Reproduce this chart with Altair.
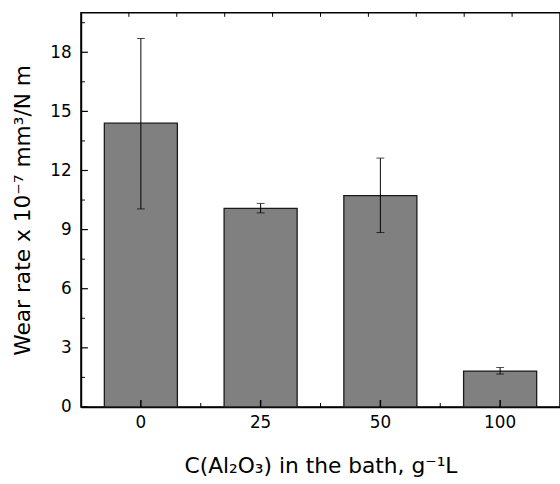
import altair as alt
import pandas as pd

categories = ["0", "25", "50", "100"]
values = [14.4, 10.08, 10.73, 1.82]
err_low = [10.05, 9.85, 8.85, 1.67]
err_high = [18.7, 10.33, 12.63, 2.0]

y_major = [0, 3, 6, 9, 12, 15, 18]
y_minor = [1.5, 4.5, 7.5, 10.5, 13.5, 16.5, 19.5]
x_minor_start = ["25", "50", "100"]
top_ticks = [1, 2, 3, 4, 5, 6, 7, 8, 9]

FONT = "DejaVu Sans"

df = pd.DataFrame({"cat": categories, "val": values, "lo": err_low, "hi": err_high})
df_ymaj = pd.DataFrame({"v": y_major})
df_ymin = pd.DataFrame({"v": y_minor})
df_xmaj = pd.DataFrame({"cat": categories})
df_xmin = pd.DataFrame({"cat": x_minor_start})
df_top = pd.DataFrame({"t": top_ticks})

xscale = alt.Scale(domain=categories, paddingInner=0, paddingOuter=0)
yscale = alt.Scale(domain=[0, 20], nice=False)

x_enc = alt.X(
    "cat:N", sort=categories, scale=xscale,
    axis=alt.Axis(
        title="C(Al₂O₃) in the bath, g⁻¹L", labelAngle=0, ticks=False,
        labelFontSize=17, labelPadding=8, titleFontSize=22, titlePadding=25,
        titleFontWeight="normal", domainColor="black", domainWidth=1.5,
        labelColor="black", titleColor="black", labelFont=FONT, titleFont=FONT,
    ),
)
y_enc = alt.Y(
    "val:Q", scale=yscale,
    axis=alt.Axis(
        title="Wear rate x 10⁻⁷ mm³/N m", values=y_major, ticks=False, grid=False,
        labelFontSize=17, labelPadding=10, titleFontSize=22, titlePadding=15,
        titleFontWeight="normal", domainColor="black", domainWidth=1.5,
        labelColor="black", titleColor="black", labelFont=FONT, titleFont=FONT,
    ),
)

bars = alt.Chart(df).mark_bar(
    color="#808080", stroke="#1a1a1a", strokeWidth=1.3,
    width=alt.RelativeBandSize(0.61),
).encode(x=x_enc, y=y_enc)

err = alt.Chart(df).mark_rule(color="black", strokeWidth=1).encode(
    x=alt.X("cat:N", sort=categories), y=alt.Y("lo:Q"), y2="hi:Q"
)
cap_lo = alt.Chart(df).mark_tick(color="black", thickness=1, size=8).encode(
    x=alt.X("cat:N", sort=categories), y=alt.Y("lo:Q")
)
cap_hi = alt.Chart(df).mark_tick(color="black", thickness=1, size=8).encode(
    x=alt.X("cat:N", sort=categories), y=alt.Y("hi:Q")
)

ymaj = alt.Chart(df_ymaj).mark_rule(color="black", strokeWidth=1.2).encode(
    y=alt.Y("v:Q"), x=alt.value(0), x2=alt.value(7)
)
ymin = alt.Chart(df_ymin).mark_rule(color="black", strokeWidth=1).encode(
    y=alt.Y("v:Q"), x=alt.value(0), x2=alt.value(4)
)
xmaj = alt.Chart(df_xmaj).mark_rule(color="black", strokeWidth=1.5).encode(
    x=alt.X("cat:N", sort=categories), y=alt.value(399), y2=alt.value(392)
)
xmin = alt.Chart(df_xmin).mark_rule(color="black", strokeWidth=1).encode(
    x=alt.X("cat:N", sort=categories, bandPosition=0), y=alt.value(399), y2=alt.value(395)
)

main = alt.layer(bars, err, cap_lo, cap_hi, ymaj, ymin, xmaj, xmin)

top = alt.Chart(df_top).mark_rule(color="black", strokeWidth=1).encode(
    x=alt.X("t:Q", scale=alt.Scale(domain=[0, 10], nice=False), axis=None),
    y=alt.value(0), y2=alt.value(4),
)

chart = alt.layer(main, top).resolve_scale(x="independent").properties(
    width=485, height=399,
    autosize=alt.AutoSizeParams(type="none"),
    padding={"left": 82, "top": 10, "right": 0, "bottom": 75},
    background="white",
).configure_view(stroke="black", strokeWidth=1.5)

chart.save("out.html", embed_options={"renderer": "svg", "actions": False})
